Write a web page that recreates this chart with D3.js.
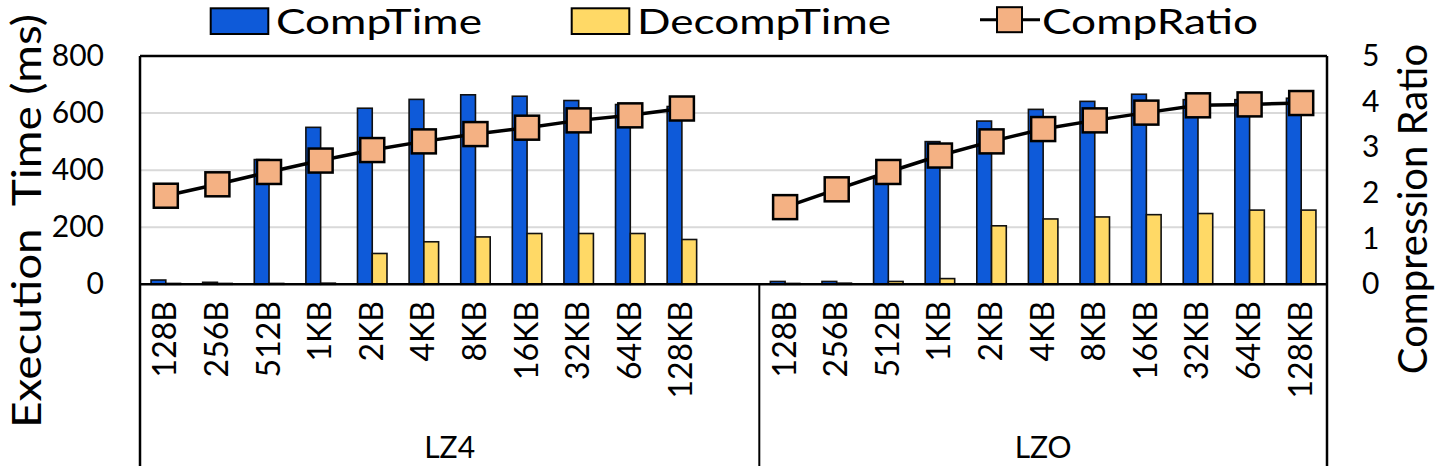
<!DOCTYPE html>
<html>
<head>
<meta charset="utf-8">
<script src="https://cdn.jsdelivr.net/npm/d3@7/dist/d3.min.js"></script>
<style>
  html, body { margin: 0; padding: 0; background: #fff; }
  svg { display: block; }
  text { font-family: Lato, "Open Sans", sans-serif; fill: #000; }
</style>
</head>
<body>
<svg id="chart" width="1437" height="466"></svg>
<script>
// ---- data ----
const categories = ["128B","256B","512B","1KB","2KB","4KB","8KB","16KB","32KB","64KB","128KB"];
const groups = ["LZ4","LZO"];
const lz4Comp   = [15, 7, 437, 550, 617, 648, 664, 659, 644, 630, 623];
const lz4Decomp = [3, 3, 3, 4, 108, 149, 166, 178, 178, 178, 157];
const lz4Ratio  = [1.94, 2.19, 2.46, 2.71, 2.94, 3.13, 3.29, 3.43, 3.59, 3.70, 3.85];
const lzoComp   = [10, 10, 370, 500, 572, 613, 641, 666, 647, 647, 652];
const lzoDecomp = [3, 4, 10, 20, 205, 229, 236, 244, 248, 260, 260];
const lzoRatio  = [1.69, 2.08, 2.46, 2.82, 3.13, 3.40, 3.59, 3.76, 3.92, 3.94, 3.97];
const leftTicks = [0, 200, 400, 600, 800];
const rightTicks = [0, 1, 2, 3, 4, 5];
const seriesNames = ["CompTime", "DecompTime", "CompRatio"];

const colors = { comp: "#0E5AD9", decomp: "#FFD966", ratio: "#F4B183" };

// ---- build rows ----
const seriesByGroup = {
  LZ4: { comp: lz4Comp, decomp: lz4Decomp, ratio: lz4Ratio },
  LZO: { comp: lzoComp, decomp: lzoDecomp, ratio: lzoRatio }
};
const slots = [];
groups.forEach((g, gi) => {
  categories.forEach((c, i) => {
    slots.push({ key: g + "|" + c, group: g, cat: c,
      comp: seriesByGroup[g].comp[i], decomp: seriesByGroup[g].decomp[i], ratio: seriesByGroup[g].ratio[i] });
  });
  if (gi < groups.length - 1) slots.push({ key: "gap" + gi, group: g, gap: true });
});

// ---- layout ----
const L = 140, R = 1327, T = 56, B = 284.3, H = 466;
const svg = d3.select("#chart");

const x = d3.scaleBand().domain(slots.map(d => d.key)).range([L, R]).padding(0);
const yL = d3.scaleLinear().domain([0, 800]).range([B, T]);
const yR = d3.scaleLinear().domain([0, 5]).range([B, T]);
const bw = x.bandwidth() / 3.5;
const cx = k => x(k) + x.bandwidth() / 2;

// gridlines
svg.append("g").selectAll("line").data(leftTicks.filter(v => v > 0 && v < 800)).join("line")
  .attr("x1", L).attr("x2", R).attr("y1", d => yL(d)).attr("y2", d => yL(d))
  .attr("stroke", "#d9d9d9").attr("stroke-width", 2);

// bars
const real = slots.filter(d => !d.gap);
svg.append("g").selectAll("rect").data(real).join("rect")
  .attr("x", d => cx(d.key) - bw).attr("width", bw)
  .attr("y", d => yL(d.comp)).attr("height", d => yL(0) - yL(d.comp))
  .attr("fill", colors.comp).attr("stroke", "#111").attr("stroke-width", 1.6);
svg.append("g").selectAll("rect").data(real).join("rect")
  .attr("x", d => cx(d.key)).attr("width", bw)
  .attr("y", d => yL(d.decomp)).attr("height", d => yL(0) - yL(d.decomp))
  .attr("fill", colors.decomp).attr("stroke", "#111").attr("stroke-width", 1.6);

// frame
const frame = svg.append("g").attr("stroke", "#000").attr("stroke-width", 2.5);
frame.append("line").attr("x1", L).attr("x2", R).attr("y1", T).attr("y2", T);
frame.append("line").attr("x1", L).attr("x2", R).attr("y1", B).attr("y2", B);
frame.append("line").attr("x1", L).attr("x2", L).attr("y1", T).attr("y2", H);
frame.append("line").attr("x1", R).attr("x2", R).attr("y1", T).attr("y2", H);
const sepX = x("gap0") + x.bandwidth();
frame.append("line").attr("x1", sepX).attr("x2", sepX).attr("y1", B).attr("y2", H).attr("stroke-width", 2);

// ratio lines
const line = d3.line().x(d => cx(d.key)).y(d => yR(d.ratio));
groups.forEach(g => {
  svg.append("path").datum(real.filter(d => d.group === g))
    .attr("d", line).attr("fill", "none").attr("stroke", "#000").attr("stroke-width", 3.5);
});
const ms = 24;
svg.append("g").selectAll("rect").data(real).join("rect")
  .attr("x", d => cx(d.key) - ms / 2).attr("y", d => yR(d.ratio) - ms / 2)
  .attr("width", ms).attr("height", ms)
  .attr("fill", colors.ratio).attr("stroke", "#000").attr("stroke-width", 2.5);

// left axis
const axL = svg.append("g").attr("transform", `translate(${L - 36},0)`)
  .call(d3.axisLeft(yL).tickValues(leftTicks).tickSize(0).tickPadding(0));
axL.select(".domain").remove();
axL.selectAll("text").attr("font-size", 30).style("font-family", "Lato");

// right axis
const axR = svg.append("g").attr("transform", `translate(${R + 35},0)`)
  .call(d3.axisRight(yR).tickValues(rightTicks).tickFormat(d3.format("d")).tickSize(0).tickPadding(0));
axR.select(".domain").remove();
axR.selectAll("text").attr("font-size", 30).style("font-family", "Lato");

// category labels
svg.append("g").selectAll("text").data(real).join("text")
  .attr("transform", d => `translate(${cx(d.key) - 2},${301}) rotate(-90)`)
  .attr("text-anchor", "end").attr("dominant-baseline", "central")
  .attr("font-size", 32).text(d => d.cat);

// group labels
groups.forEach(g => {
  const ks = slots.filter(d => d.group === g);
  const x0 = x(ks[0].key), x1 = x(ks[ks.length - 1].key) + x.bandwidth();
  svg.append("text").attr("x", (x0 + x1) / 2).attr("y", 458)
    .attr("text-anchor", "middle").attr("font-size", 30).text(g);
});

// axis titles
svg.append("text").attr("transform", `translate(41,221) rotate(-90)`)
  .attr("text-anchor", "middle").attr("font-size", 40)
  .attr("textLength", 414).attr("lengthAdjust", "spacingAndGlyphs")
  .style("white-space", "pre").text("Execution  Time (ms)");
svg.append("text").attr("transform", `translate(1427,209) rotate(-90)`)
  .attr("text-anchor", "middle").attr("font-size", 40).text("Compression Ratio");

// legend
const lg = svg.append("g");
const legendText = (xx, w, s) => lg.append("text").attr("x", xx).attr("y", 33.5).attr("font-size", 35)
  .attr("textLength", w).attr("lengthAdjust", "spacingAndGlyphs").text(s);
lg.append("rect").attr("x", 210.7).attr("y", 8.3).attr("width", 57.6).attr("height", 25.7)
  .attr("fill", colors.comp).attr("stroke", "#000").attr("stroke-width", 2);
legendText(276, 206, seriesNames[0]);
lg.append("rect").attr("x", 571.7).attr("y", 8.3).attr("width", 57.6).attr("height", 25.7)
  .attr("fill", colors.decomp).attr("stroke", "#000").attr("stroke-width", 2);
legendText(637, 254, seriesNames[1]);
lg.append("line").attr("x1", 980).attr("x2", 1040).attr("y1", 19.7).attr("y2", 19.7)
  .attr("stroke", "#000").attr("stroke-width", 3);
lg.append("rect").attr("x", 997).attr("y", 7.2).attr("width", 25).attr("height", 25)
  .attr("fill", colors.ratio).attr("stroke", "#000").attr("stroke-width", 2);
legendText(1042, 216, seriesNames[2]);
</script>
</body>
</html>
